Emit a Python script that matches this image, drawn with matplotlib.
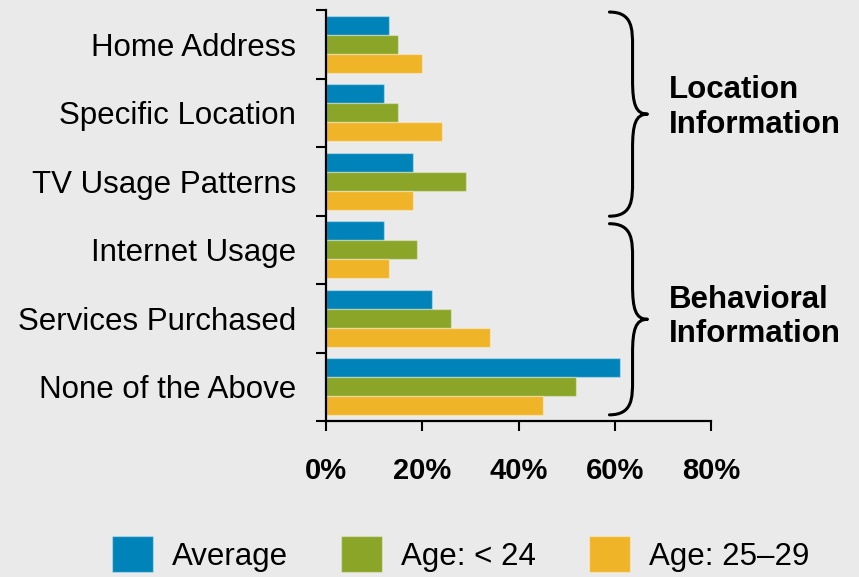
import matplotlib
matplotlib.use("Agg")
import matplotlib.pyplot as plt
from matplotlib.path import Path
from matplotlib.patches import PathPatch
import numpy as np

plt.rcParams['font.family'] = ['Liberation Sans', 'DejaVu Sans']

categories = ['Home Address', 'Specific Location', 'TV Usage Patterns',
              'Internet Usage', 'Services Purchased', 'None of the Above']
average = [13, 12, 18, 12, 22, 61]
age_under_24 = [15, 15, 29, 19, 26, 52]
age_25_29 = [20, 24, 18, 13, 34, 45]
series_labels = ['Average', 'Age: < 24', 'Age: 25\u201329']
colors = ['#0083b9', '#8aa528', '#f0b428']
x_ticks = [0, 20, 40, 60, 80]
groups = ['Location\nInformation', 'Behavioral\nInformation']

bg = '#eaeaea'
fig = plt.figure(figsize=(8.59, 5.77), dpi=100, facecolor=bg)
ax = fig.add_axes([326/859, 1 - 421/577, 385/859, 411/577], facecolor=bg)

y = np.arange(len(categories))
h = 0.277
for k, vals in enumerate([average, age_under_24, age_25_29]):
    ax.barh(y + (k - 1) * h, vals, height=h, color=colors[k],
            edgecolor=(1, 1, 1, 0.35), linewidth=1, label=series_labels[k])

ax.set_ylim(len(categories) - 0.5, -0.5)
ax.set_xlim(0, 80)

ax.set_yticks(y)
ax.set_yticklabels(categories, fontsize=22.5)
ax.set_yticks(np.arange(-0.5, len(categories)), minor=True)
ax.tick_params(axis='y', which='major', length=0, pad=21.6)
ax.tick_params(axis='y', which='minor', length=7.2, width=1.5, direction='out')

ax.set_xticks(x_ticks)
ax.set_xticklabels([f'{t}%' for t in x_ticks], fontsize=21, fontweight='bold')
ax.tick_params(axis='x', length=7.2, width=1.5, direction='out', pad=19)

for s in ['top', 'right']:
    ax.spines[s].set_visible(False)
for s in ['left', 'bottom']:
    ax.spines[s].set_linewidth(1.6)


def brace(ax, x0, xm, xt, y0, y1, r=0.5):
    ym = (y0 + y1) / 2
    dx = xt - xm
    verts = [(x0, y0), (xm, y0), (xm, y0 + 0.5 * r), (xm, y0 + r),
             (xm, ym - r),
             (xm, ym - 0.3 * r), (xm + 0.2 * dx, ym), (xt, ym),
             (xm + 0.2 * dx, ym), (xm, ym + 0.3 * r), (xm, ym + r),
             (xm, y1 - r),
             (xm, y1 - 0.5 * r), (xm, y1), (x0, y1)]
    codes = [Path.MOVETO, Path.CURVE4, Path.CURVE4, Path.CURVE4,
             Path.LINETO,
             Path.CURVE4, Path.CURVE4, Path.CURVE4,
             Path.CURVE4, Path.CURVE4, Path.CURVE4,
             Path.LINETO,
             Path.CURVE4, Path.CURVE4, Path.CURVE4]
    ax.add_patch(PathPatch(Path(verts, codes), fill=False, lw=2.2,
                           edgecolor='black', clip_on=False,
                           capstyle='round', joinstyle='round'))


brace(ax, 58.9, 63.7, 66.8, -0.47, 2.51)
brace(ax, 58.9, 63.7, 66.8, 2.62, 5.41)
ax.text(71.2, 0.92, groups[0], fontsize=22.5, fontweight='bold',
        ha='left', va='center', linespacing=1.2, clip_on=False)
ax.text(71.2, 3.98, groups[1], fontsize=22.5, fontweight='bold',
        ha='left', va='center', linespacing=1.2, clip_on=False)

handles, labels = ax.get_legend_handles_labels()
fs = 22.5 * 100 / 72
fig.legend(handles, labels, loc='upper left',
           bbox_to_anchor=(112/859, 1 - 536/577), ncol=3, frameon=False,
           fontsize=22.5, borderpad=0, borderaxespad=0,
           handlelength=41/fs, handleheight=44/fs,
           handletextpad=19/fs, columnspacing=53/fs)

fig.savefig('out.png', dpi=100, facecolor=bg)
